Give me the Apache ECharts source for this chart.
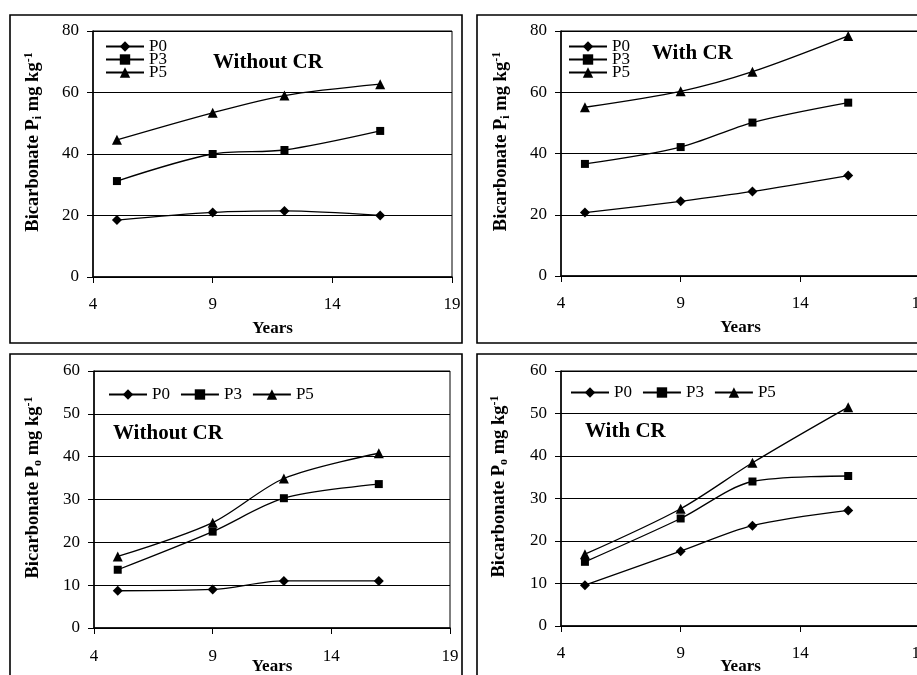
<!DOCTYPE html>
<html>
<head>
<meta charset="utf-8">
<script src="https://cdn.jsdelivr.net/npm/echarts@6/dist/echarts.min.js"></script>
<style>html,body{margin:0;padding:0;background:#fff;}#c{width:917px;height:675px;}</style>
</head>
<body>
<div id="c"></div>
<script>
// ---- data ----
const years = [5, 9, 12, 16];
const seriesNames = ['P0', 'P3', 'P5'];
const seriesSymbols = ['diamond', 'rect', 'triangle'];
const panelTitles = ['Without CR', 'With CR', 'Without CR', 'With CR'];
const xTickMin = 4, xTickMax = 19, xTickStep = 5;
const yTopMax = 80, yTopStep = 20;
const yBottomMax = 60, yBottomStep = 10;

const piWithoutP0 = [18.5, 21.0, 21.5, 20.0];
const piWithoutP3 = [31.2, 40.0, 41.3, 47.5];
const piWithoutP5 = [44.6, 53.4, 59.0, 62.7];
const piWithP0 = [20.7, 24.4, 27.6, 32.8];
const piWithP3 = [36.6, 42.1, 50.1, 56.6];
const piWithP5 = [55.1, 60.3, 66.7, 78.4];
const poWithoutP0 = [8.7, 9.0, 11.0, 11.0];
const poWithoutP3 = [13.6, 22.5, 30.3, 33.6];
const poWithoutP5 = [16.7, 24.6, 34.9, 40.8];
const poWithP0 = [9.6, 17.6, 23.6, 27.2];
const poWithP3 = [15.1, 25.3, 34.0, 35.3];
const poWithP5 = [16.9, 27.6, 38.4, 51.5];

const panelData = [
  [piWithoutP0, piWithoutP3, piWithoutP5],
  [piWithP0, piWithP3, piWithP5],
  [poWithoutP0, poWithoutP3, poWithoutP5],
  [poWithP0, poWithP3, poWithP5]
];

// ---- layout ----
const FONT = '"Liberation Serif", "Times New Roman", serif';
const grids = [
  {left: 93, top: 31, width: 359, height: 246},
  {left: 561, top: 31, width: 359, height: 245},
  {left: 94, top: 371, width: 356, height: 257},
  {left: 561, top: 371, width: 359, height: 255}
];
const yNameSub = ['i', 'i', 'o', 'o'];
const xNameGap = [43, 43, 30, 32];
const xLabelMargin = [19, 19, 20, 19];
const yNameGap = [49, 49, 50, 51];

const chart = echarts.init(document.getElementById('c'), null, {renderer: 'canvas'});

const xAxes = grids.map((g, i) => ({
  type: 'value', gridIndex: i, min: xTickMin, max: xTickMax, interval: xTickStep,
  name: 'Years', nameLocation: 'middle', nameGap: xNameGap[i], nameMoveOverlap: false,
  nameTextStyle: {fontFamily: FONT, fontSize: 17, fontWeight: 'bold', color: '#000'},
  axisLine: {show: true, lineStyle: {color: '#000', width: 1.5}},
  axisTick: {show: true, length: 6, lineStyle: {color: '#000', width: 1}},
  axisLabel: {fontFamily: FONT, fontSize: 17, color: '#000', margin: xLabelMargin[i], hideOverlap: false},
  splitLine: {show: false}
}));

const yAxes = grids.map((g, i) => ({
  type: 'value', gridIndex: i, min: 0,
  max: i < 2 ? yTopMax : yBottomMax, interval: i < 2 ? yTopStep : yBottomStep,
  name: '{b|Bicarbonate P}{sub|' + yNameSub[i] + '}{b| mg kg}{sup|-1}',
  nameLocation: 'middle', nameRotate: 90, nameGap: yNameGap[i], nameMoveOverlap: false,
  nameTextStyle: {
    padding: [0, 0, 0, 24],
    rich: {
      b: {fontFamily: FONT, fontSize: 18.5, fontWeight: 'bold', color: '#000', lineHeight: 21},
      sub: {fontFamily: FONT, fontSize: 12, fontWeight: 'bold', color: '#000', lineHeight: 12, verticalAlign: 'bottom'},
      sup: {fontFamily: FONT, fontSize: 12, fontWeight: 'bold', color: '#000', lineHeight: 12, verticalAlign: 'top'}
    }
  },
  axisLine: {show: true, lineStyle: {color: '#000', width: 1.5}},
  axisTick: {show: true, length: 6, lineStyle: {color: '#000', width: 1}},
  axisLabel: {fontFamily: FONT, fontSize: 17, color: '#000', margin: 14},
  splitLine: {show: true, lineStyle: {color: '#000', width: 1}}
}));

const series = [];
panelData.forEach((arrs, p) => {
  arrs.forEach((vals, k) => {
    series.push({
      type: 'line', name: seriesNames[k], xAxisIndex: p, yAxisIndex: p,
      data: years.map((x, j) => [x, vals[j]]),
      smooth: 0.3, symbol: seriesSymbols[k],
      symbolSize: k === 1 ? 8 : 10,
      lineStyle: {color: '#000', width: 1.3},
      itemStyle: {color: '#000'},
      animation: false, z: 5
    });
  });
});

const legendCommon = {
  data: seriesNames, itemWidth: 38, itemHeight: 13, selectedMode: false, padding: 0,
  textStyle: {fontFamily: FONT, fontSize: 17, color: '#000'}
};
const legends = [
  Object.assign({}, legendCommon, {orient: 'vertical', left: 105, top: 38, itemGap: -4}),
  Object.assign({}, legendCommon, {orient: 'vertical', left: 568, top: 38, itemGap: -4}),
  Object.assign({}, legendCommon, {orient: 'horizontal', left: 108, top: 386, itemGap: 10}),
  Object.assign({}, legendCommon, {orient: 'horizontal', left: 570, top: 384, itemGap: 10})
];

const boxes = [
  {x: 10, y: 15, w: 452, h: 328},
  {x: 477, y: 15, w: 460, h: 328},
  {x: 10, y: 354, w: 452, h: 340},
  {x: 477, y: 354, w: 460, h: 340}
];
const titlePos = [[213, 63], [652, 54], [113, 434], [585, 432]];

const graphic = [];
boxes.forEach(b => graphic.push({
  type: 'rect', shape: {x: b.x, y: b.y, width: b.w, height: b.h},
  style: {fill: null, stroke: '#000', lineWidth: 1.6}, z: 0
}));
panelTitles.forEach((t, i) => graphic.push({
  type: 'text', x: titlePos[i][0], y: titlePos[i][1],
  style: {text: t, font: 'bold 21px ' + FONT, fill: '#000', textVerticalAlign: 'middle'}, z: 10
}));

chart.setOption({
  backgroundColor: '#fff',
  animation: false,
  grid: grids.map(g => Object.assign({show: true, borderColor: '#000', borderWidth: 1, backgroundColor: 'transparent', containLabel: false, outerBoundsMode: 'none'}, g)),
  xAxis: xAxes,
  yAxis: yAxes,
  legend: legends,
  series: series,
  graphic: graphic
});
</script>
</body>
</html>
